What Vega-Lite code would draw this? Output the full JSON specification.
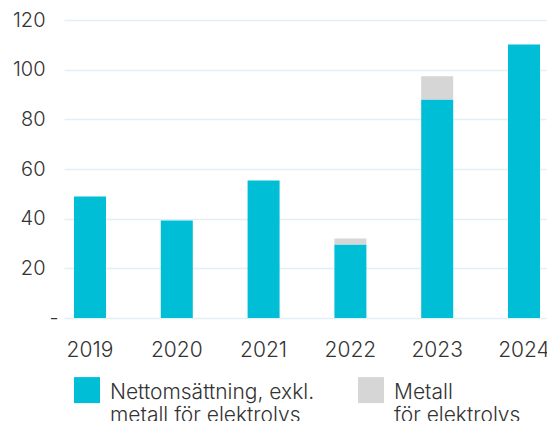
{
  "$schema": "https://vega.github.io/schema/vega-lite/v6.json",
  "autosize": "none",
  "width": 482,
  "height": 298,
  "padding": {"left": 64, "top": 20, "right": 1, "bottom": 103},
  "background": "white",
  "config": {
    "view": {"stroke": null},
    "font": "Inter",
    "axis": {"labelFont": "Inter", "labelColor": "#333333", "labelFontWeight": 300},
    "legend": {"labelFont": "Inter", "labelColor": "#333333", "labelFontWeight": 300}
  },
  "data": {
    "values": [
      {"year": "2019", "series": "netto", "value": 48.9},
      {"year": "2020", "series": "netto", "value": 39.3},
      {"year": "2021", "series": "netto", "value": 55.4},
      {"year": "2022", "series": "netto", "value": 29.6},
      {"year": "2022", "series": "metall", "value": 2.4},
      {"year": "2023", "series": "netto", "value": 88.0},
      {"year": "2023", "series": "metall", "value": 9.3},
      {"year": "2024", "series": "netto", "value": 110.1}
    ]
  },
  "mark": {"type": "bar"},
  "encoding": {
    "x": {
      "field": "year",
      "type": "nominal",
      "scale": {"paddingInner": 0.6313, "paddingOuter": 0.092, "align": 0.625},
      "axis": {
        "title": null,
        "labelAngle": 0,
        "domain": false,
        "ticks": false,
        "labelFontSize": 21,
        "labelPadding": 21
      }
    },
    "y": {
      "field": "value",
      "type": "quantitative",
      "stack": "zero",
      "scale": {"domain": [0, 120], "nice": false},
      "axis": {
        "title": null,
        "values": [0, 20, 40, 60, 80, 100, 120],
        "domain": false,
        "ticks": false,
        "labelFontSize": 20,
        "labelPadding": {"condition": {"test": "datum.value == 0", "value": 6}, "value": 19},
        "labelExpr": "datum.value == 0 ? '-' : datum.label",
        "gridColor": "#e1f0f5",
        "gridWidth": 1.6
      }
    },
    "color": {
      "field": "series",
      "type": "nominal",
      "scale": {"domain": ["netto", "metall"], "range": ["#00bed6", "#d6d6d6"]},
      "legend": {
        "title": null,
        "orient": "none",
        "legendX": 10,
        "legendY": 349,
        "direction": "horizontal",
        "columns": 2,
        "padding": 0,
        "columnPadding": 43,
        "symbolType": "M-1,-0.377H1V1.623H-1Z",
        "symbolSize": 676,
        "symbolStrokeWidth": 0,
        "symbolOpacity": 1,
        "labelOffset": 10,
        "labelFontSize": 21,
        "labelLimit": 400,
        "labelBaseline": "top",
        "labelLineHeight": 21,
        "labelExpr": "datum.value == 'netto' ? ['Nettomsättning, exkl.', 'metall för elektrolys'] : ['Metall', 'för elektrolys']"
      }
    },
    "order": {"field": "series", "sort": "descending"}
  }
}
